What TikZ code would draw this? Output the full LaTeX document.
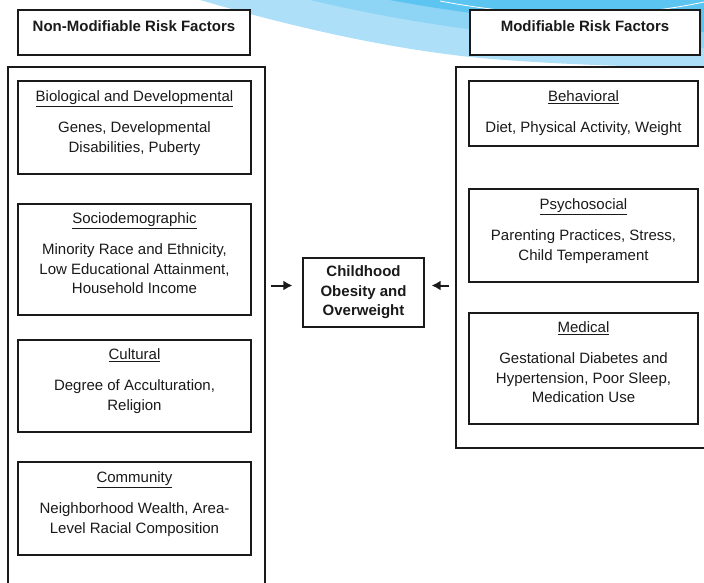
\documentclass[tikz,border=0pt]{standalone}
\usepackage{fontspec}
\setmainfont{Liberation Sans}
\usetikzlibrary{positioning,arrows.meta}
\definecolor{skylight}{HTML}{ADE0F8}
\definecolor{skymid}{HTML}{8DD4F5}
\definecolor{skydark}{HTML}{5BC4F1}
\definecolor{inkgray}{HTML}{1A1A1A}
\tikzset{
    framebox/.style={draw=inkgray, line width=1.2pt, inner sep=0pt, fill=white},
    headtext/.style={anchor=north, inner sep=0pt, align=center, text=inkgray,
        font=\fontsize{15}{19.5}\selectfont\bfseries},
    factortext/.style={anchor=north, inner sep=0pt, align=center, text=inkgray,
        font=\fontsize{15}{19.5}\selectfont},
    feeds/.style={-{Latex[length=9pt,width=10pt]}, line width=2pt, inkgray},
}
\begin{document}
\begin{tikzpicture}[x=1pt,y=-1pt]
    \useasboundingbox (0,0) rectangle (704,582);
    \clip (0,0) rectangle (704,582);
    % sky swoosh
    \fill[skylight](200,0)..controls(330,38)and(420,52)..(480,58)..controls(560,65)and(650,67)..(704,68)--(704,0)--cycle;
    \fill[skymid](310,0)..controls(420,26)and(540,42)..(704,48)--(704,0)--cycle;
    \fill[skydark](390,0)..controls(470,15)and(560,25)..(704,32)--(704,0)--cycle;
    \draw[white,line width=.8pt](440,1)..controls(530,18)and(620,20)..(704,2);
    % headers
    \node[framebox,minimum width=232,minimum height=45](nonmodhead)at(134,32.5){};
    \node[headtext,below=11pt of nonmodhead.north](nonmodtitle){Non-Modifiable Risk Factors};
    \node[framebox,minimum width=230,minimum height=45](modhead)at(585,32.5){};
    \node[headtext,below=11pt of modhead.north](modtitle){Modifiable Risk Factors};
    % outer frames
    \node[framebox,minimum width=257,minimum height=543](nonmod)at(136.5,338.5){};
    \node[framebox,minimum width=274,minimum height=381](mod)at(593,257.5){};
    % non-modifiable factors
    \node[framebox,minimum width=233,minimum height=93](bio)at(134.5,127.5){};
    \node[factortext,below=10pt of bio.north](biotext){\underline{Biological and Developmental}\\[12pt]
        Genes, Developmental\\Disabilities, Puberty};
    \node[framebox,minimum width=233,minimum height=111](socio)at(134.5,259.5){};
    \node[factortext,below=9pt of socio.north](sociotext){\underline{Sociodemographic}\\[12pt]
        Minority Race and Ethnicity,\\Low Educational Attainment,\\Household Income};
    \node[framebox,minimum width=233,minimum height=92](cult)at(134.5,386){};
    \node[factortext,below=9pt of cult.north](culttext){\underline{Cultural}\\[12pt]
        Degree of Acculturation,\\Religion};
    \node[framebox,minimum width=233,minimum height=93](comm)at(134.5,508.5){};
    \node[factortext,below=10pt of comm.north](commtext){\underline{Community}\\[12pt]
        Neighborhood Wealth, Area-\\Level Racial Composition};
    % modifiable factors
    \node[framebox,minimum width=229,minimum height=65](behav)at(583.5,113.5){};
    \node[factortext,below=10pt of behav.north](behavtext){\underline{Behavioral}\\[12pt]
        Diet, Physical Activity, Weight};
    \node[framebox,minimum width=229,minimum height=93](psych)at(583.5,235.5){};
    \node[factortext,below=10pt of psych.north](psychtext){\underline{Psychosocial}\\[12pt]
        Parenting Practices, Stress,\\Child Temperament};
    \node[framebox,minimum width=229,minimum height=111](med)at(583.5,368.5){};
    \node[factortext,below=9pt of med.north](medtext){\underline{Medical}\\[12pt]
        Gestational Diabetes and\\Hypertension, Poor Sleep,\\Medication Use};
    % outcome
    \node[framebox,minimum width=121,minimum height=69,headtext,anchor=center,inner sep=0pt](outcome)at(363.5,292.5)
        {Childhood\\Obesity and\\Overweight};
    \draw[feeds]([xshift=5pt,yshift=7pt]nonmod.east|-outcome.west)--([xshift=-10pt,yshift=7pt]outcome.west);
    \draw[feeds]([xshift=-6pt,yshift=7pt]mod.west|-outcome.east)--([xshift=7pt,yshift=7pt]outcome.east);
\end{tikzpicture}
\end{document}
